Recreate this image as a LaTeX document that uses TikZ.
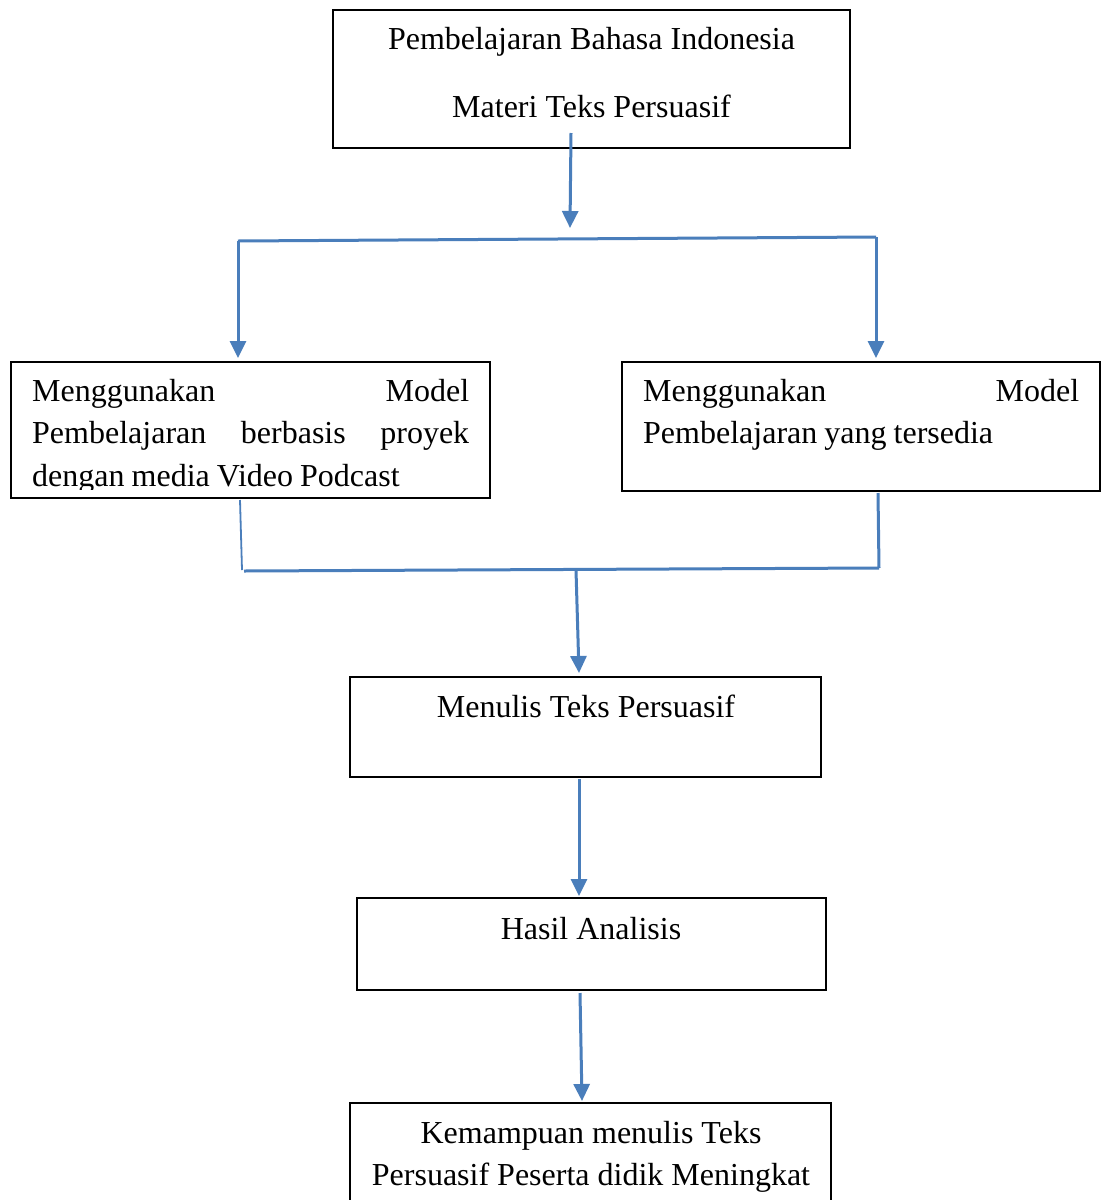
\documentclass[tikz,border=0pt]{standalone}
\usepackage{fontspec}
\setmainfont{Liberation Serif}
\usetikzlibrary{arrows.meta}
\definecolor{linkblue}{HTML}{4A7EBB}
\newcommand{\tightspace}{\spaceskip=0.22em\relax}
\begin{document}
\begin{tikzpicture}[x=1pt,y=-1pt,
  box/.style={draw=black, line width=1.4pt, inner sep=0pt, minimum width=#1},
  conn/.style={draw=linkblue, line width=3pt},
  arr/.style={conn, -{Triangle[width=16pt,length=17pt]}},
  txt/.style={font=\fontsize{32}{42.5}\selectfont, inner sep=0pt}
]
\clip (0,0) rectangle (1107,1200);
\fill[white] (0,0) rectangle (1107,1200);
% boxes
\node[box=517pt, minimum height=138pt] (top) at (591.5,79) {};
\node[box=479pt, minimum height=136pt] (left) at (250.5,430) {};
\node[box=478pt, minimum height=129pt] (right) at (861,426.5) {};
\node[box=471pt, minimum height=100pt] (write) at (585.5,727) {};
\node[box=469pt, minimum height=92pt] (result) at (591.5,944) {};
\node[box=481pt, minimum height=110pt] (final) at (590.5,1158) {};
% texts
\node[txt, anchor=base] (t1) at (591.5,49) {Pembelajaran Bahasa Indonesia};
\node[txt, anchor=base] (t2) at (591.5,117) {Materi Teks Persuasif};
\begin{scope}
\clip (12,363) rectangle (489,489);
\node[txt, anchor=north west, text width=437pt, align=left] (tl) at (32,379)
  {\tightspace Menggunakan\hfill Model\\Pembelajaran\hfill berbasis\hfill proyek\\dengan media Video Podcast};
\end{scope}
\node[txt, anchor=north west, text width=436pt, align=left] (tr) at (643,379)
  {\tightspace Menggunakan\hfill Model\\Pembelajaran yang tersedia};
\node[txt, anchor=base] (t3) at (586,717) {Menulis Teks Persuasif};
\node[txt, anchor=base] (t4) at (591,939) {Hasil Analisis};
\node[txt, anchor=base] (t5) at (591,1143) {Kemampuan menulis Teks};
\node[txt, anchor=base] (t6) at (591,1185) {Persuasif Peserta didik Meningkat};
% connector points
\coordinate (a1) at (571,133);
\coordinate (a2) at (570,228);
\coordinate (bl) at (238,241);
\coordinate (br) at (876,237);
\coordinate (ltop) at (238,358);
\coordinate (rtop) at (876,358);
\coordinate (m1) at (240,500);
\coordinate (m2) at (242,570);
\coordinate (m2b) at (244,571);
\coordinate (m3) at (879,568);
\coordinate (m4) at (878,493);
\coordinate (mc) at (576,570);
\coordinate (wtop) at (579,673);
\coordinate (w1) at (579,779);
\coordinate (rtopp) at (579,896);
\coordinate (r1) at (580,993);
\coordinate (ftop) at (582,1101);
% connectors
\draw[arr] (a1) -- (a2);
\draw[conn] (bl) -- (br);
\draw[arr] (bl) -- (ltop);
\draw[arr] (br) -- (rtop);
\draw[conn, line width=1.8pt] (m1) -- (m2);
\draw[conn] (m2b) -- (m3);
\draw[conn] (m4) -- (m3);
\draw[arr] (mc) -- (wtop);
\draw[arr] (w1) -- (rtopp);
\draw[arr] (r1) -- (ftop);
\end{tikzpicture}
\end{document}
